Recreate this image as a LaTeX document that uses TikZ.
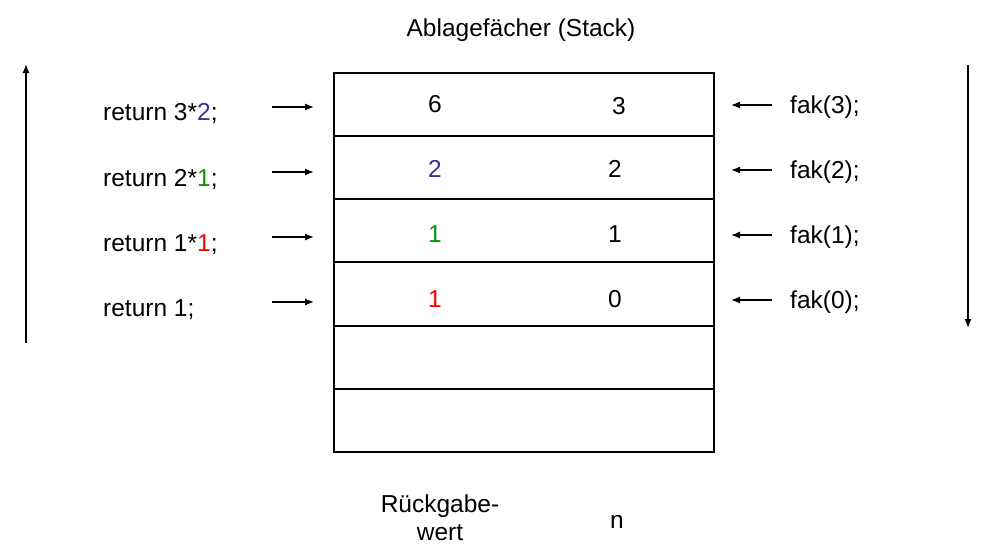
\documentclass[tikz,border=0pt]{standalone}
\usepackage{fontspec}
\setmainfont{Liberation Sans}
\usetikzlibrary{arrows.meta}
\definecolor{valblue}{RGB}{51,51,153}
\definecolor{valgreen}{RGB}{0,153,0}
\definecolor{valred}{RGB}{255,0,0}
\begin{document}
\begin{tikzpicture}[x=1pt,y=-1pt,
  lbl/.style={inner sep=0pt,font=\fontsize{24.5}{29}\selectfont},
  arr/.style={line width=1.3pt,-{Latex[length=9pt,width=7pt]}},
  frame/.style={line width=2.7pt},
  sep/.style={line width=1.3pt}]
\useasboundingbox (0,0) rectangle (984,544);
% title
\node[lbl,anchor=base] (title) at (521,36) {Ablagefächer (Stack)};
% stack box
\draw[sep] (334,136) -- (714,136);
\draw[sep] (334,199) -- (714,199);
\draw[sep] (334,262) -- (714,262);
\draw[sep] (334,326) -- (714,326);
\draw[sep] (334,389) -- (714,389);
\draw[frame] (334,73) rectangle (714,452);
% values
\node[lbl,anchor=base] (r1) at (435,112) {6};
\node[lbl,anchor=base] (n1) at (619,114) {3};
\node[lbl,anchor=base,text=valblue] (r2) at (435,177) {2};
\node[lbl,anchor=base] (n2) at (615,177) {2};
\node[lbl,anchor=base,text=valgreen] (r3) at (435,242) {1};
\node[lbl,anchor=base] (n3) at (615,242) {1};
\node[lbl,anchor=base,text=valred] (r4) at (435,307) {1};
\node[lbl,anchor=base] (n4) at (615,307) {0};
% left texts
\node[lbl,anchor=base west] (ret1) at (103,120) {return 3*\textcolor{valblue}{2};};
\node[lbl,anchor=base west] (ret2) at (103,186) {return 2*\textcolor{valgreen}{1};};
\node[lbl,anchor=base west] (ret3) at (103,251) {return 1*\textcolor{valred}{1};};
\node[lbl,anchor=base west] (ret4) at (103,316) {return 1;};
% right texts
\node[lbl,anchor=base west] (fak3) at (790,113) {fak(3);};
\node[lbl,anchor=base west] (fak2) at (790,178) {fak(2);};
\node[lbl,anchor=base west] (fak1) at (790,243) {fak(1);};
\node[lbl,anchor=base west] (fak0) at (790,308) {fak(0);};
% bottom labels
\node[lbl,anchor=base] (rw1) at (440,512) {Rückgabe-};
\node[lbl,anchor=base] (rw2) at (440,540) {wert};
\node[lbl,anchor=base] (nlab) at (617,528) {n};
% left and right arrows
\foreach \i/\y in {1/107,2/172,3/237,4/302}{
  \coordinate (la\i s) at (272,\y);
  \coordinate (la\i e) at (314,\y);
  \draw[arr] (la\i s) -- (la\i e);
  \coordinate (ra\i s) at (772,\y-2);
  \coordinate (ra\i e) at (731,\y-2);
  \draw[arr] (ra\i s) -- (ra\i e);
}
% long arrows
\coordinate (up s) at (26,343);
\coordinate (up e) at (26,64);
\draw[arr] (up s) -- (up e);
\coordinate (dn s) at (968,65);
\coordinate (dn e) at (968,328);
\draw[arr] (dn s) -- (dn e);
\end{tikzpicture}
\end{document}
